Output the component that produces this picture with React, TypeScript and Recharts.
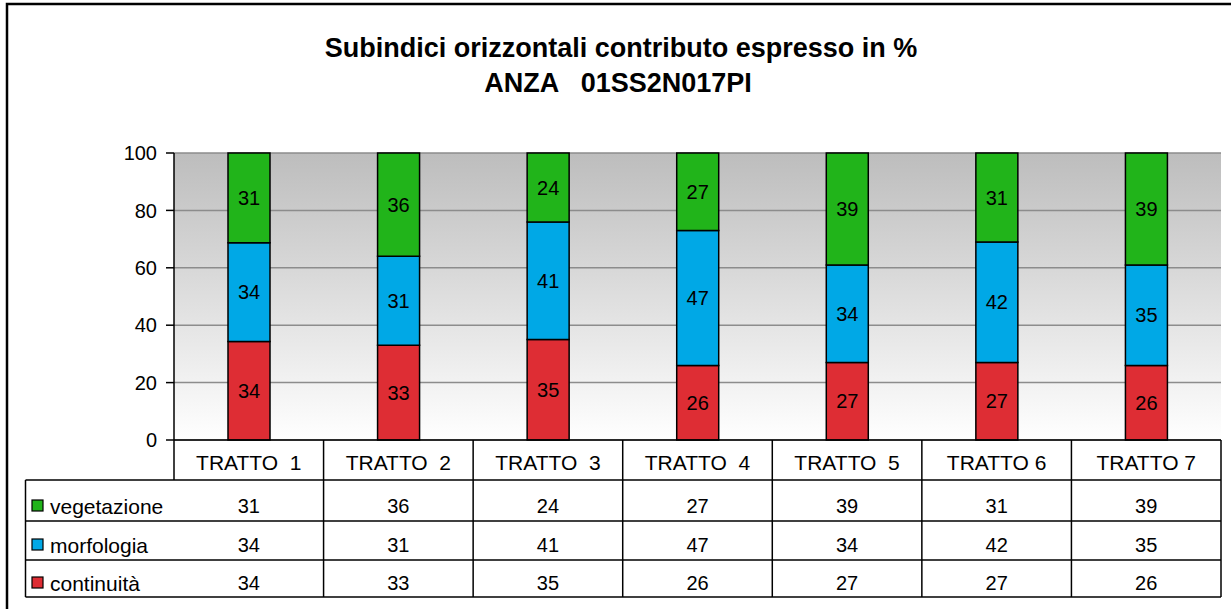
import React from 'react';
import { BarChart, Bar, XAxis, YAxis, CartesianGrid, LabelList } from 'recharts';

const categories = ['TRATTO  1', 'TRATTO  2', 'TRATTO  3', 'TRATTO  4', 'TRATTO  5', 'TRATTO 6', 'TRATTO 7'];
const continuita = [34, 33, 35, 26, 27, 27, 26];
const morfologia = [34, 31, 41, 47, 34, 42, 35];
const vegetazione = [31, 36, 24, 27, 39, 31, 39];
const yTicks = [0, 0.2, 0.4, 0.6, 0.8, 1];

const series = [
    { key: 'vegetazione', label: 'vegetazione', color: '#21b41a', values: vegetazione },
    { key: 'morfologia', label: 'morfologia', color: '#00a8e6', values: morfologia },
    { key: 'continuita', label: 'continuità', color: '#de2d34', values: continuita },
];

const data = categories.map((name, i) => ({
    name,
    continuita: continuita[i],
    morfologia: morfologia[i],
    vegetazione: vegetazione[i],
}));

const FONT = '"Liberation Sans", Arial, sans-serif';
const ROW_OFFSETS = [66, 105, 143];

const TableTick = (props: any) => {
    const { x, y, payload, index } = props;
    const half = payload.offset || 74.8;
    const row = data[index];
    return (
        <g>
            {index === 0 && <line x1={x - half} y1={y} x2={x - half} y2={y + 40} stroke="#000" strokeWidth={1.5} />}
            <line x1={x + half} y1={y} x2={x + half} y2={y + 157} stroke="#000" strokeWidth={1.5} />
            <text x={x} y={y + 22} textAnchor="middle" dominantBaseline="central" fontSize={21} fontFamily={FONT} fill="#000" style={{ whiteSpace: 'pre' }} xmlSpace="preserve">
                {payload.value}
            </text>
            {series.map((s, r) => (
                <text key={s.key} x={x} y={y + ROW_OFFSETS[r]} textAnchor="middle" dominantBaseline="central" fontSize={20} fontFamily={FONT} fill="#000">
                    {row ? (row as any)[s.key] : ''}
                </text>
            ))}
        </g>
    );
};

const App = () => {
    return (
        <div style={{ position: 'absolute', left: 0, top: 0, width: 1231, height: 609, background: '#fff', overflow: 'hidden', fontFamily: FONT }}>
            <BarChart
                width={1231}
                height={609}
                data={data}
                stackOffset="expand"
                barSize={42}
                margin={{ top: 153, right: 10, left: 114, bottom: 0 }}
            >
                <defs>
                    <linearGradient id="plotBg" x1="0" y1="0" x2="0" y2="1">
                        <stop offset="0%" stopColor="#bdbdbd" />
                        <stop offset="100%" stopColor="#ffffff" />
                    </linearGradient>
                </defs>
                <CartesianGrid vertical={false} stroke="#8c8c8c" strokeWidth={1.5} fill="url(#plotBg)" fillOpacity={1} />
                <XAxis
                    dataKey="name"
                    height={169}
                    tick={<TableTick />}
                    tickLine={false}
                    tickSize={0}
                    tickMargin={0}
                    interval={0}
                    axisLine={{ stroke: '#000', strokeWidth: 1.5 }}
                />
                <YAxis
                    width={60}
                    ticks={yTicks}
                    domain={[0, 1]}
                    tickFormatter={(v: number) => String(Math.round(v * 100))}
                    tick={{ fontSize: 20, fill: '#000', fontFamily: FONT }}
                    tickSize={8}
                    tickMargin={9}
                    tickLine={{ stroke: '#000', strokeWidth: 1.5 }}
                    axisLine={{ stroke: '#000', strokeWidth: 1.5 }}
                />
                <YAxis yAxisId="right" orientation="right" width={0} tick={false} tickLine={false} axisLine={{ stroke: '#a0a0a0', strokeWidth: 1.5 }} />
                <Bar dataKey="continuita" stackId="a" fill="#de2d34" stroke="#000" strokeWidth={1.5} isAnimationActive={false}>
                    <LabelList dataKey="continuita" position="center" fill="#000" fontSize={20} fontFamily={FONT} />
                </Bar>
                <Bar dataKey="morfologia" stackId="a" fill="#00a8e6" stroke="#000" strokeWidth={1.5} isAnimationActive={false}>
                    <LabelList dataKey="morfologia" position="center" fill="#000" fontSize={20} fontFamily={FONT} />
                </Bar>
                <Bar dataKey="vegetazione" stackId="a" fill="#21b41a" stroke="#000" strokeWidth={1.5} isAnimationActive={false}>
                    <LabelList dataKey="vegetazione" position="center" fill="#000" fontSize={20} fontFamily={FONT} />
                </Bar>
            </BarChart>
            <svg width={1231} height={609} style={{ position: 'absolute', left: 0, top: 0, pointerEvents: 'none' }}>
                <rect x={7} y={4} width={1240} height={620} fill="none" stroke="#000" strokeWidth={2.5} />
                <text x={621} y={57} textAnchor="middle" fontSize={27} fontWeight="bold" fontFamily={FONT} fill="#000">
                    Subindici orizzontali contributo espresso in %
                </text>
                <text x={618} y={92} textAnchor="middle" fontSize={27} fontWeight="bold" fontFamily={FONT} fill="#000" xmlSpace="preserve" style={{ whiteSpace: 'pre' }}>
                    {'ANZA   01SS2N017PI'}
                </text>
                <line x1={25.5} y1={480} x2={1221} y2={480} stroke="#000" strokeWidth={1.5} />
                <line x1={25.5} y1={521} x2={1221} y2={521} stroke="#000" strokeWidth={1.5} />
                <line x1={25.5} y1={560} x2={1221} y2={560} stroke="#000" strokeWidth={1.5} />
                <line x1={25.5} y1={597} x2={1221} y2={597} stroke="#000" strokeWidth={1.5} />
                <line x1={25.5} y1={480} x2={25.5} y2={597} stroke="#000" strokeWidth={1.5} />
                {series.map((s, r) => (
                    <g key={s.key}>
                        <rect x={32} y={440 + ROW_OFFSETS[r] - 6} width={11} height={11} fill={s.color} stroke="#000" strokeWidth={1.2} />
                        <text x={50} y={440 + ROW_OFFSETS[r]} dominantBaseline="central" fontSize={21} fontFamily={FONT} fill="#000">
                            {s.label}
                        </text>
                    </g>
                ))}
            </svg>
        </div>
    );
};

export default App;
